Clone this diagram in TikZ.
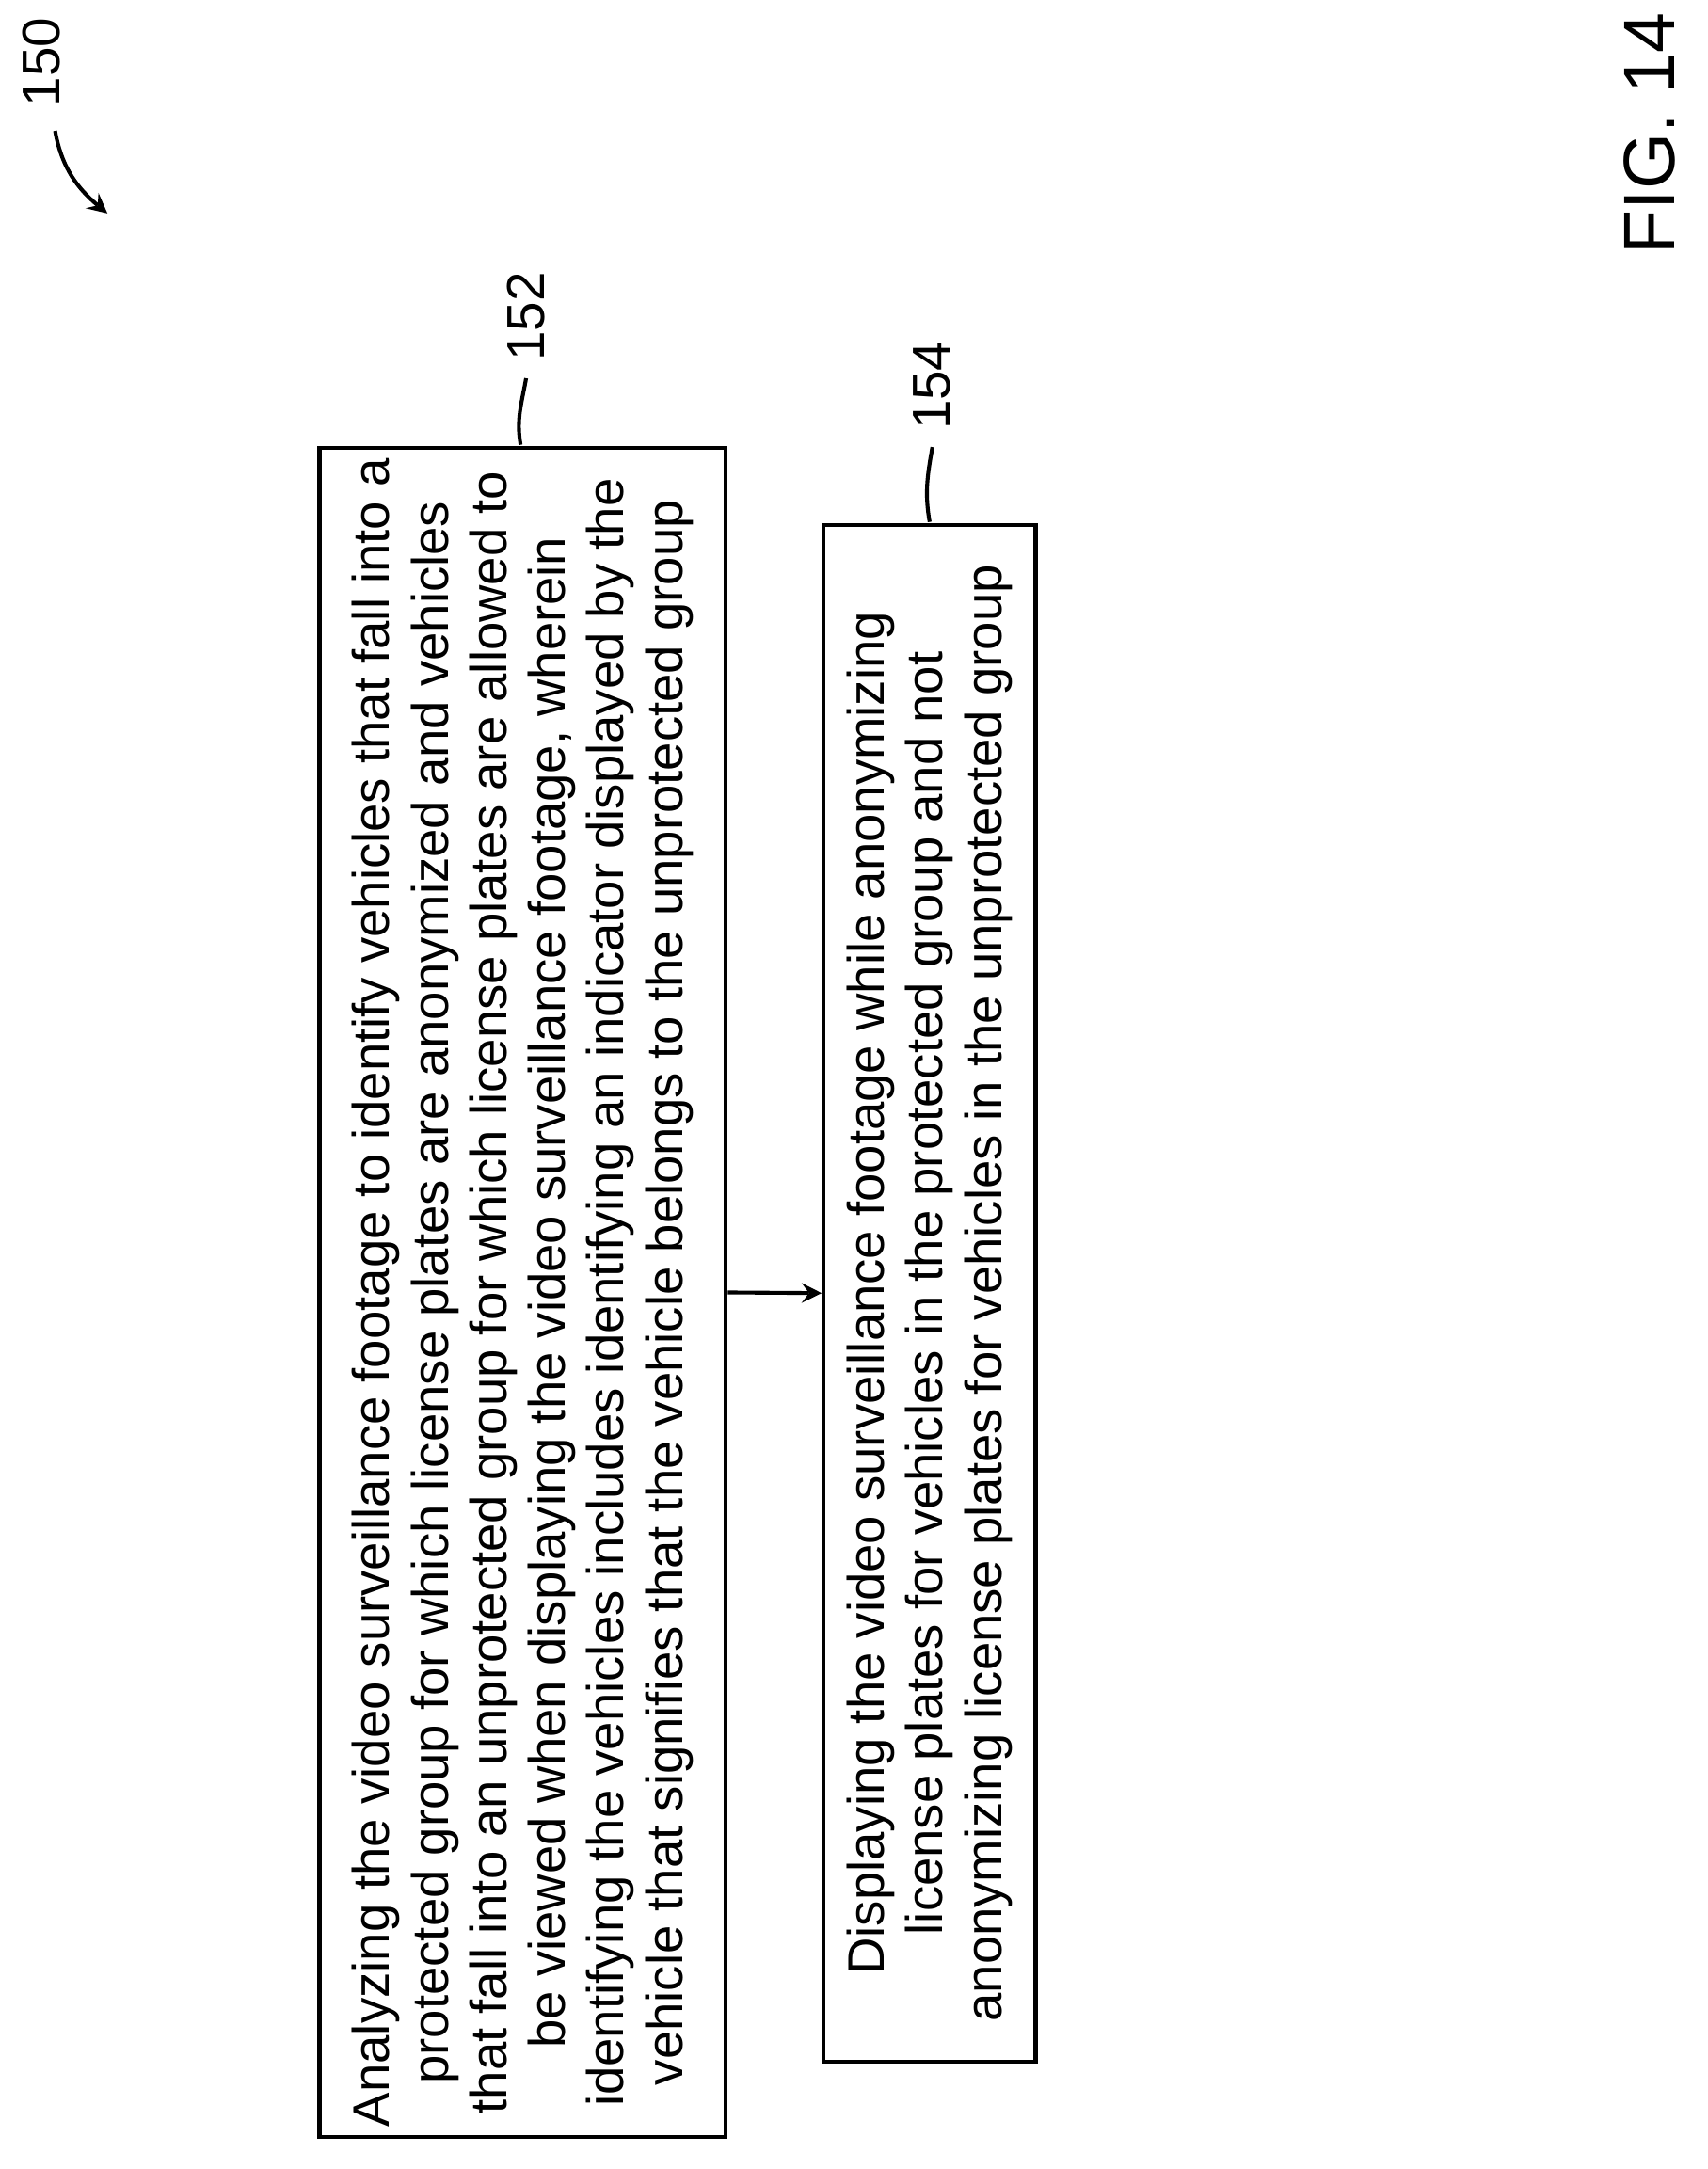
\documentclass[tikz,border=0pt]{standalone}
\usepackage{fontspec}
\setmainfont{Liberation Sans}
\usetikzlibrary{arrows,positioning}
\begin{document}
\begin{tikzpicture}[
    stepbox/.style={draw, thick, rotate=90, align=center, inner sep=0pt,
      font=\fontsize{10.6}{12.1}\selectfont},
    refnum/.style={font=\fontsize{11}{11}\selectfont, rotate=90}]
\useasboundingbox (0,0) rectangle (12.40,15.75);
% boxes
\node[stepbox, minimum width=12.27cm, minimum height=2.95cm] (analyze) at (3.795,6.365)
  {Analyzing the video surveillance footage to identify vehicles that fall into a\\
   protected group for which license plates are anonymized and vehicles\\
   that fall into an unprotected group for which license plates are allowed to\\
   be viewed when displaying the video surveillance footage, wherein\\
   identifying the vehicles includes identifying an indicator displayed by the\\
   vehicle that signifies that the vehicle belongs to the unprotected group};
\node[stepbox, minimum width=11.16cm, minimum height=1.54cm] (display) at (6.75,6.36)
  {Displaying the video surveillance footage while anonymizing\\
   license plates for vehicles in the protected group and not\\
   anonymizing license plates for vehicles in the unprotected group};
\draw[thick, -stealth] (analyze.south) -- (display.north);
% reference numerals
\node[refnum] (n152) at (3.82,13.45) {152};
\node[refnum] (n154) at (6.77,12.95) {154};
\node[refnum] (n150) at (0.30,15.30) {150};
\draw[thick] (n152.west) to[out=-100,in=100] (3.78,12.52);
\draw[thick] (n154.west) to[out=-100,in=100] (6.75,11.96);
\draw[thick, -stealth] (0.40,14.80) to[out=-80,in=140] (0.78,14.20);
\node[rotate=90, font=\fontsize{15}{15}\selectfont] (fig) at (11.98,14.78) {FIG. 14};
\end{tikzpicture}
\end{document}
